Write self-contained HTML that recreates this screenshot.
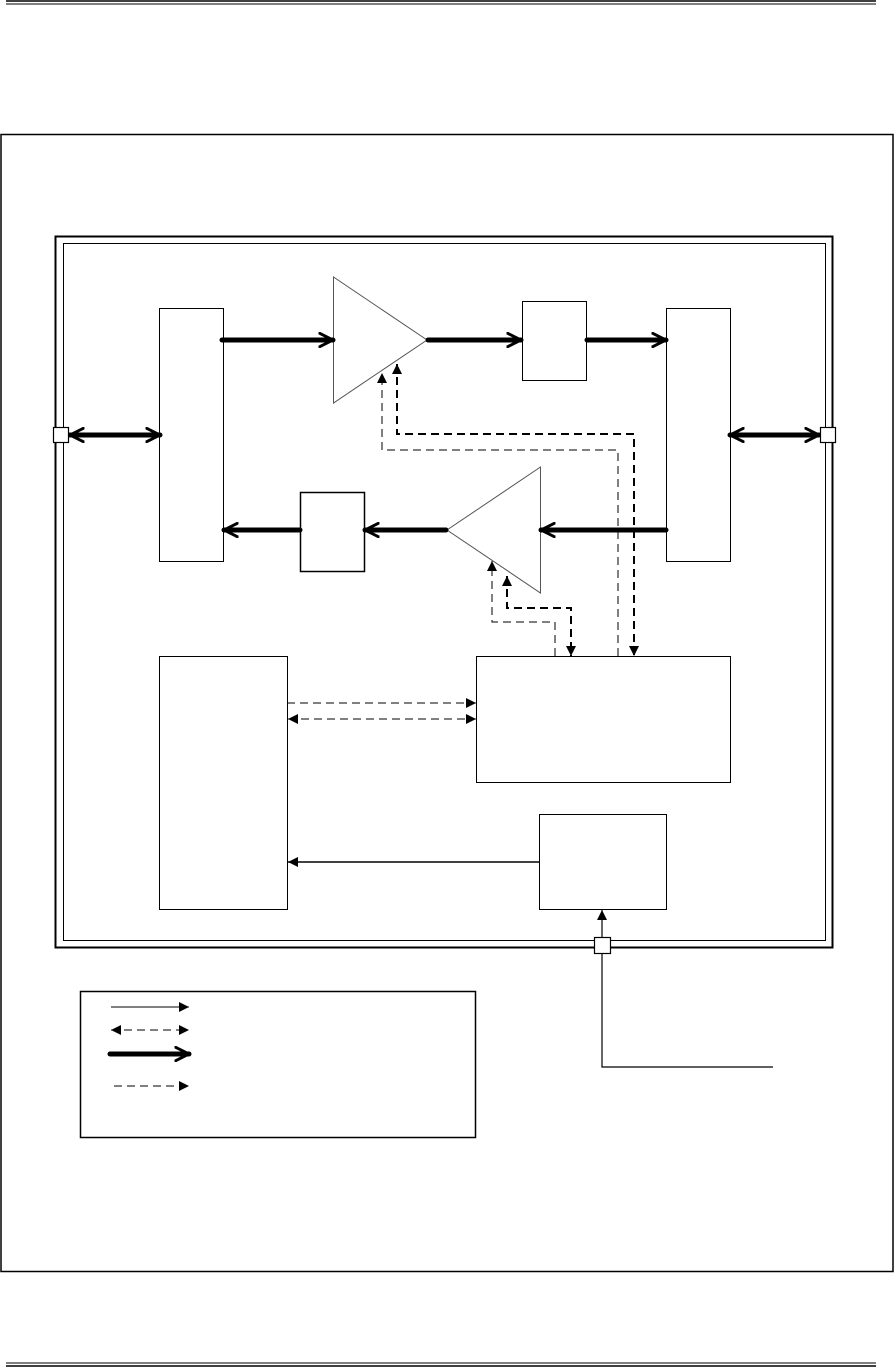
<!DOCTYPE html>
<html><head><meta charset="utf-8"><style>html,body{margin:0;padding:0;background:#fff}svg{display:block}</style></head>
<body>
<svg width="895" height="1367" viewBox="0 0 895 1367" xmlns="http://www.w3.org/2000/svg">
<defs>
<marker id="tri" viewBox="0 0 10 10" refX="10" refY="5" markerWidth="10" markerHeight="10" markerUnits="userSpaceOnUse" orient="auto-start-reverse"><path d="M0,0 L10,5 L0,10 z" fill="#000"/></marker>
<marker id="open" viewBox="0 0 12 12" refX="11" refY="6" markerWidth="16" markerHeight="16" markerUnits="userSpaceOnUse" orient="auto-start-reverse"><path d="M1,1 L11,6 L1,11" fill="none" stroke="#000" stroke-width="2.2" stroke-linecap="round"/></marker>
</defs>
<g fill="none" stroke="#000">
<!-- header/footer lines -->
<line x1="6" y1="1" x2="876" y2="1" stroke-width="1.5"/>
<line x1="6" y1="4" x2="876" y2="4" stroke-width="1"/>
<line x1="6" y1="1363" x2="876" y2="1363" stroke-width="1"/>
<line x1="6" y1="1366" x2="876" y2="1366" stroke-width="1.5"/>
<!-- outer frame -->
<rect x="1" y="134.5" width="892" height="1137" stroke-width="1.5"/>
<!-- double frame -->
<rect x="55.5" y="236.5" width="777" height="711" stroke-width="2"/>
<rect x="63.5" y="243.5" width="762" height="697" stroke-width="1"/>
<!-- boxes -->
<rect x="159.5" y="308.5" width="64" height="253" stroke-width="1"/>
<rect x="522.5" y="301.5" width="64" height="79" stroke-width="1"/>
<rect x="666.5" y="308.5" width="64" height="253" stroke-width="1"/>
<rect x="300.5" y="492.5" width="64" height="79" stroke-width="1.5"/>
<rect x="159.5" y="656.5" width="128" height="253" stroke-width="1"/>
<rect x="476.5" y="656.5" width="254" height="126" stroke-width="1"/>
<rect x="539.5" y="814.5" width="127" height="95" stroke-width="1"/>
<!-- triangles -->
<path d="M333.5,277 L427,340 L333.5,403 z" stroke="#555" stroke-width="1" fill="#fff"/>
<path d="M540.5,467 L447,530 L540.5,593 z" stroke="#555" stroke-width="1" fill="#fff"/>
<!-- thick arrows -->
<g stroke-width="5" stroke-linecap="round">
<line x1="222" y1="340" x2="333" y2="340" marker-end="url(#open)"/>
<line x1="428" y1="340" x2="521" y2="340" marker-end="url(#open)"/>
<line x1="587" y1="340" x2="666" y2="340" marker-end="url(#open)"/>
<line x1="666" y1="530" x2="541" y2="530" marker-end="url(#open)"/>
<line x1="446" y1="530" x2="365" y2="530" marker-end="url(#open)"/>
<line x1="300" y1="530" x2="224" y2="530" marker-end="url(#open)"/>
<line x1="70" y1="435" x2="160" y2="435" marker-start="url(#open)" marker-end="url(#open)"/>
<line x1="730" y1="435" x2="819" y2="435" marker-start="url(#open)" marker-end="url(#open)"/>
</g>
<!-- dashed control lines -->
<g stroke-width="1" stroke-dasharray="8,5">
<path d="M618,656 L618,450 L382,450 L382,373" marker-end="url(#tri)"/>
<path d="M555,656 L555,622 L492,622 L492,561" marker-end="url(#tri)"/>
<line x1="287" y1="703" x2="476" y2="703" marker-end="url(#tri)"/>
<line x1="288" y1="719" x2="476" y2="719" marker-start="url(#tri)" marker-end="url(#tri)"/>
</g>
<g stroke-width="2" stroke-dasharray="8,5">
<path d="M397,364 L397,434 L634,434 L634,656" marker-start="url(#tri)" marker-end="url(#tri)"/>
<path d="M507,576 L507,608 L571,608 L571,656" marker-start="url(#tri)" marker-end="url(#tri)"/>
</g>
<!-- solid thin arrows -->
<line x1="539" y1="862" x2="288" y2="862" stroke-width="1.5" marker-end="url(#tri)"/>
<line x1="602" y1="937" x2="602" y2="910" stroke-width="1.2" marker-end="url(#tri)"/>
<path d="M602,953 L602,1067 L773,1067" stroke-width="1.2"/>
<!-- ports -->
<rect x="53.5" y="427.5" width="15" height="15" fill="#fff" stroke-width="1.2"/>
<rect x="820.5" y="427.5" width="15" height="15" fill="#fff" stroke-width="1.2"/>
<rect x="594.5" y="937.5" width="16" height="16" fill="#fff" stroke-width="1.2"/>
<!-- legend -->
<rect x="80.5" y="991.5" width="395" height="146" stroke-width="1.5"/>
<line x1="111" y1="1007" x2="189" y2="1007" stroke-width="1" marker-end="url(#tri)"/>
<line x1="111" y1="1030" x2="189" y2="1030" stroke-width="1" stroke-dasharray="8,5" marker-start="url(#tri)" marker-end="url(#tri)"/>
<line x1="110" y1="1054" x2="189" y2="1054" stroke-width="5" stroke-linecap="round" marker-end="url(#open)"/>
<line x1="114" y1="1086" x2="189" y2="1086" stroke-width="1" stroke-dasharray="8,5" marker-end="url(#tri)"/>
</g>
</svg>
</body></html>
